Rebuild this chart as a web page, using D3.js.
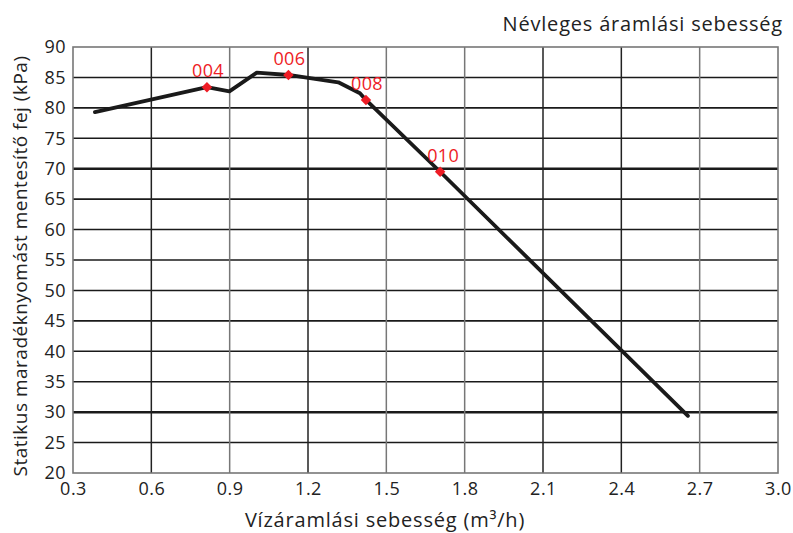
<!DOCTYPE html>
<html><head><meta charset="utf-8">
<script src="https://cdn.jsdelivr.net/npm/d3@7"></script>
<style>body{margin:0;background:#fff}svg{display:block}text{font-family:"Open Sans",sans-serif;fill:#222}</style>
</head><body><svg id="c" width="793" height="533"></svg>
<script>
const curveX = [0.384, 0.813, 0.899, 1.004, 1.125, 1.316, 1.399, 1.422, 1.706, 2.655];
const curveY = [79.3, 83.4, 82.7, 85.8, 85.4, 84.2, 82.4, 81.3, 69.5, 29.4];
const markerLabels = ["004", "006", "008", "010"];
const markerX = [0.813, 1.125, 1.422, 1.706];
const markerY = [83.4, 85.4, 81.3, 69.5];
const xTicks = [0.3, 0.6, 0.9, 1.2, 1.5, 1.8, 2.1, 2.4, 2.7, 3.0];
const yTicks = [20, 25, 30, 35, 40, 45, 50, 55, 60, 65, 70, 75, 80, 85, 90];
const title = "Névleges áramlási sebesség";
const xTitle = "Vízáramlási sebesség (m³/h)";
const yTitle = "Statikus maradéknyomást mentesítő fej (kPa)";

const svg = d3.select("#c");
const L = 73, R = 778, T = 47, B = 473;
const x = d3.scaleLinear().domain([0.3, 3.0]).range([L, R]);
const y = d3.scaleLinear().domain([20, 90]).range([B, T]);

// horizontal grid
svg.append("g").selectAll("line").data(yTicks.slice(1, -1)).join("line")
  .attr("x1", L).attr("x2", R).attr("y1", d => y(d)).attr("y2", d => y(d))
  .attr("stroke", "#1a1a1a").attr("stroke-width", d => (d === 70 || d === 30) ? 2.5 : 1.6);
// vertical grid
const grayV = [0.9, 1.5, 1.8, 2.7];
svg.append("g").selectAll("line").data(xTicks.slice(1, -1)).join("line")
  .attr("y1", T).attr("y2", B).attr("x1", d => x(d)).attr("x2", d => x(d))
  .attr("stroke", d => grayV.includes(d) ? "#777" : "#222").attr("stroke-width", 1.5);
// frame
svg.append("rect").attr("x", L).attr("y", T).attr("width", R - L).attr("height", B - T)
  .attr("fill", "none").attr("stroke", "#777").attr("stroke-width", 1.6);

// axes labels
const xAxis = d3.axisBottom(x).tickValues(xTicks).tickFormat(d3.format(".1f")).tickSize(0).tickPadding(9);
const gx = svg.append("g").attr("transform", `translate(0,${B})`).call(xAxis);
gx.select(".domain").remove();
gx.selectAll("text").attr("font-size", 18).attr("font-family", "Open Sans").attr("fill", "#222")
  .attr("letter-spacing", 0.5);
const yAxis = d3.axisLeft(y).tickValues(yTicks).tickSize(0).tickPadding(7);
const gy = svg.append("g").attr("transform", `translate(${L},0)`).call(yAxis);
gy.select(".domain").remove();
gy.selectAll("text").attr("font-size", 18).attr("font-family", "Open Sans").attr("fill", "#222")
  .attr("letter-spacing", 0.5);

// curve
const line = d3.line().x(d => x(d[0])).y(d => y(d[1]));
svg.append("path").datum(curveX.map((v, i) => [v, curveY[i]])).attr("d", line)
  .attr("fill", "none").attr("stroke", "#1a1a1a").attr("stroke-width", 3.8)
  .attr("stroke-linejoin", "round").attr("stroke-linecap", "round");

// markers
const sym = d3.symbol().type(d3.symbolDiamond2).size(70);
svg.append("g").selectAll("path").data(markerX).join("path")
  .attr("transform", (d, i) => `translate(${x(d)},${y(markerY[i])})`)
  .attr("d", sym).attr("fill", "#ee1c25");
svg.append("g").selectAll("text").data(markerLabels).join("text")
  .attr("x", (d, i) => x(markerX[i]) + (i === 3 ? 3 : 1)).attr("y", (d, i) => y(markerY[i]) - 10)
  .attr("text-anchor", "middle").attr("font-size", 18).attr("letter-spacing", 0.3)
  .style("fill", "#ee1c25").text(d => d);

// titles
svg.append("text").attr("x", 783).attr("y", 31).attr("text-anchor", "end")
  .attr("font-size", 20).attr("letter-spacing", 0.8).text(title);
svg.append("text").attr("x", 385).attr("y", 527).attr("text-anchor", "middle")
  .attr("font-size", 20).attr("letter-spacing", 0.8).text(xTitle);
svg.append("text").attr("transform", "translate(27,266) rotate(-90)").attr("text-anchor", "middle")
  .attr("font-size", 19).attr("letter-spacing", 0.5).text(yTitle);
</script></body></html>
